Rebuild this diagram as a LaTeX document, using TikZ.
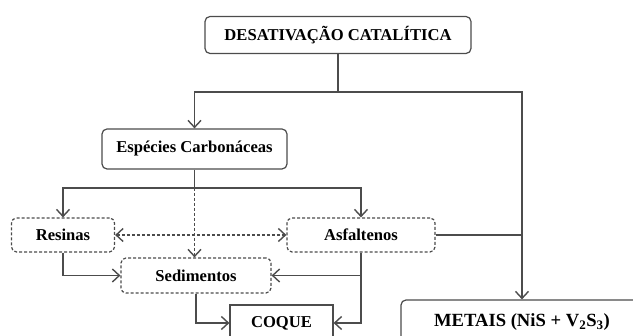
\documentclass[tikz,border=0pt]{standalone}
\usepackage{fontspec}
\setmainfont{Liberation Serif}
\usepackage{tikz}
\usetikzlibrary{arrows.meta}

\tikzset{
  caixa/.style={draw=black!70, line width=1.2pt, rounded corners=5pt, fill=white,
    inner sep=0pt, font=\fontsize{16.6}{19}\selectfont\bfseries},
  caixatrac/.style={caixa, dash pattern=on 3pt off 2pt},
  seta/.style={draw=black!70, line width=1.4pt, -{Straight Barb[length=7pt,width=13pt]}},
  setadupla/.style={seta, {Straight Barb[length=7pt,width=13pt]}-{Straight Barb[length=7pt,width=13pt]}},
  linha/.style={draw=black!70, line width=1.4pt}
}

\begin{document}
\begin{tikzpicture}[x=1pt,y=-1pt]
			\clip (0,0) rectangle (633,336);
			\useasboundingbox (0,0) rectangle (633,336);

			\node[caixa, minimum width=266pt, minimum height=37pt] (desat) at (338,35) {DESATIVAÇÃO CATALÍTICA};
			\node[caixa, minimum width=185pt, minimum height=40pt] (esp) at (194.5,149) {Espécies Carbonáceas};
			\node[caixatrac, minimum width=103pt, minimum height=34pt] (res) at (63,235) {Resinas};
			\node[caixatrac, minimum width=148pt, minimum height=34pt] (asf) at (361,235) {Asfaltenos};
			\node[caixatrac, minimum width=150pt, minimum height=35pt] (sed) at (196,275.5) {Sedimentos};
			\node[caixa, rounded corners=0pt, minimum width=103pt, minimum height=36pt] (coque) at (281.5,323) {COQUE};
			\node[caixa, font=\fontsize{18.6}{21}\selectfont\bfseries, minimum width=242pt, minimum height=44pt] (met) at (522,322) {METAIS (NiS + V\textsubscript{2}S\textsubscript{3})};

			\coordinate (j1) at (338,92);
			\coordinate (j2) at (194.5,188);

			\draw[linha] (desat) -- (j1);
			\draw[seta] (j1) -| (esp);
			\draw[seta] (j1) -| (met);

			\draw[linha] (esp) -- (j2);
			\draw[seta] (j2) -| (res);
			\draw[seta] (j2) -| (asf);
			\draw[seta, dash pattern=on 3pt off 2pt] (j2) -- (j2 |- sed.north);

			\draw[setadupla, dash pattern=on 3pt off 2pt] (res) -- (asf);
			\draw[linha] (asf) -- (asf -| met.north);

			\draw[seta] (res) |- (sed);
			\draw[seta] (asf) |- (sed);
			\draw[seta] (asf) |- (coque);
			\draw[seta] (sed) |- (coque);
		\end{tikzpicture}
\end{document}
